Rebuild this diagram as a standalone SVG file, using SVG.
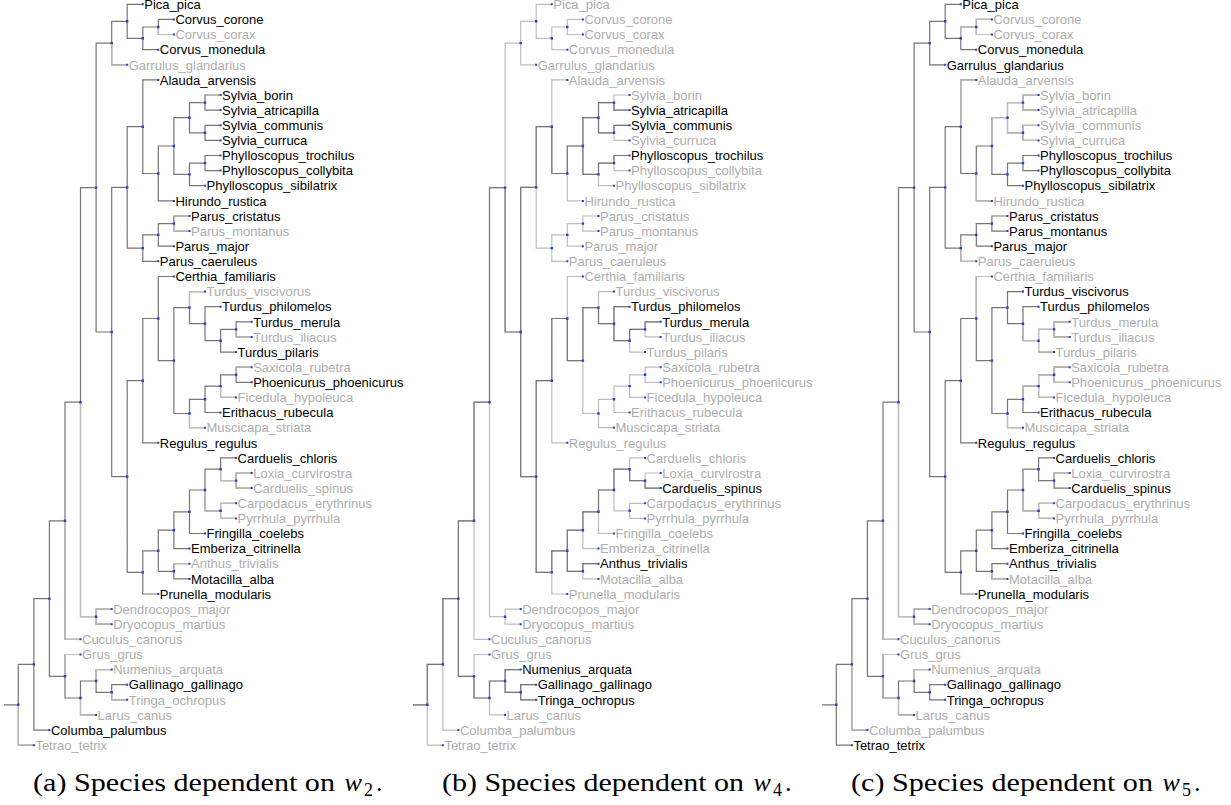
<svg xmlns="http://www.w3.org/2000/svg" xmlns:xlink="http://www.w3.org/1999/xlink" width="1231" height="805" viewBox="0 0 1231 805">
<style>
.ln{fill:none;stroke-width:1.2}
.dk{stroke:#767676}
.lt{stroke:#bdbdbd}
.dot{fill:#1f3fdc}
text.l{font-family:"Liberation Sans",Arial,sans-serif;font-size:13px}
.k{fill:#000}
.g{fill:#adadad}
.cap{font-family:"Liberation Serif","Times New Roman",serif;font-size:26px;fill:#000}
.capi{font-family:"Liberation Serif","Times New Roman",serif;font-size:26px;font-style:italic;fill:#000}
.sub{font-family:"Liberation Serif","Times New Roman",serif;font-size:18px;fill:#000}
</style>
<defs>
<path id="skel" d="M4 704.8H18.3M18.3 704.8V664.4H33.9M18.3 704.8V745.2H33.9M33.9 664.4V598.6H49.4M33.9 664.4V730.1H49.4M49.4 598.6V520.8H65M49.4 598.6V676.3H65M65 520.8V402.2H80.5M65 520.8V639.3H80.5M80.5 402.2V187.6H96.1M80.5 402.2V616.7H96.1M96.1 187.6V43.1H111.7M96.1 187.6V332H111.7M111.7 43.1V21.3H127.2M111.7 43.1V64.8H127.2M127.2 21.3V4.3H142.8M127.2 21.3V38.3H142.8M142.8 38.3V27H158.3M142.8 38.3V49.7H158.3M158.3 27V19.4H173.9M158.3 27V34.5H173.9M111.7 332V187.4H127.2M111.7 332V476.6H127.2M127.2 187.4V126.7H142.8M127.2 187.4V248.1H142.8M142.8 126.7V79.9H158.3M142.8 126.7V173.5H158.3M158.3 173.5V146H173.9M158.3 173.5V200.9H173.9M173.9 146V117.7H189.5M173.9 146V174.4H189.5M189.5 117.7V102.6H205M189.5 117.7V132.8H205M205 102.6V95H220.6M205 102.6V110.1H220.6M205 132.8V125.3H220.6M205 132.8V140.4H220.6M189.5 174.4V163.1H205M189.5 174.4V185.7H205M205 163.1V155.5H220.6M205 163.1V170.6H220.6M142.8 248.1V234.9H158.3M142.8 248.1V261.3H158.3M158.3 234.9V223.6H173.9M158.3 234.9V246.2H173.9M173.9 223.6V216H189.5M173.9 223.6V231.1H189.5M127.2 476.6V380.7H142.8M127.2 476.6V572.4H142.8M142.8 380.7V318.5H158.3M142.8 380.7V442.8H158.3M158.3 318.5V276.5H173.9M158.3 318.5V360.6H173.9M173.9 360.6V307.6H189.5M173.9 360.6V413.5H189.5M189.5 307.6V291.6H205M189.5 307.6V323.7H205M205 323.7V306.7H220.6M205 323.7V340.7H220.6M220.6 340.7V329.4H236.1M220.6 340.7V352.1H236.1M236.1 329.4V321.8H251.7M236.1 329.4V336.9H251.7M189.5 413.5V399.3H205M189.5 413.5V427.7H205M205 399.3V386.1H220.6M205 399.3V412.5H220.6M220.6 386.1V374.8H236.1M220.6 386.1V397.4H236.1M236.1 374.8V367.2H251.7M236.1 374.8V382.3H251.7M142.8 572.4V550.8H158.3M142.8 572.4V594H158.3M158.3 550.8V530.2H173.9M158.3 550.8V571.3H173.9M173.9 530.2V511.8H189.5M173.9 530.2V548.6H189.5M189.5 511.8V490H205M189.5 511.8V533.5H205M205 490V469.2H220.6M205 490V510.8H220.6M220.6 469.2V457.9H236.1M220.6 469.2V480.6H236.1M236.1 480.6V473H251.7M236.1 480.6V488.1H251.7M220.6 510.8V503.3H236.1M220.6 510.8V518.4H236.1M173.9 571.3V563.7H189.5M173.9 571.3V578.9H189.5M96.1 616.7V609.1H111.7M96.1 616.7V624.2H111.7M65 676.3V654.5H80.5M65 676.3V698H80.5M80.5 698V681H96.1M80.5 698V714.9H96.1M96.1 681V669.6H111.7M96.1 681V692.3H111.7M111.7 692.3V684.7H127.2M111.7 692.3V699.8H127.2"/>
<path id="idots" d="M17.1 703.6h2.4v2.4h-2.4zM32.7 663.2h2.4v2.4h-2.4zM48.2 597.4h2.4v2.4h-2.4zM63.8 519.6h2.4v2.4h-2.4zM63.8 675.1h2.4v2.4h-2.4zM79.3 401h2.4v2.4h-2.4zM79.3 696.8h2.4v2.4h-2.4zM94.9 186.4h2.4v2.4h-2.4zM94.9 615.5h2.4v2.4h-2.4zM94.9 679.8h2.4v2.4h-2.4zM110.5 41.9h2.4v2.4h-2.4zM110.5 330.8h2.4v2.4h-2.4zM110.5 691.1h2.4v2.4h-2.4zM126 20.1h2.4v2.4h-2.4zM126 186.2h2.4v2.4h-2.4zM126 475.4h2.4v2.4h-2.4zM141.6 37.1h2.4v2.4h-2.4zM141.6 125.5h2.4v2.4h-2.4zM141.6 246.9h2.4v2.4h-2.4zM141.6 379.5h2.4v2.4h-2.4zM141.6 571.2h2.4v2.4h-2.4zM157.1 25.8h2.4v2.4h-2.4zM157.1 172.3h2.4v2.4h-2.4zM157.1 233.7h2.4v2.4h-2.4zM157.1 317.3h2.4v2.4h-2.4zM157.1 549.6h2.4v2.4h-2.4zM172.7 144.8h2.4v2.4h-2.4zM172.7 222.4h2.4v2.4h-2.4zM172.7 359.4h2.4v2.4h-2.4zM172.7 529h2.4v2.4h-2.4zM172.7 570.1h2.4v2.4h-2.4zM188.3 116.5h2.4v2.4h-2.4zM188.3 173.2h2.4v2.4h-2.4zM188.3 306.4h2.4v2.4h-2.4zM188.3 412.3h2.4v2.4h-2.4zM188.3 510.6h2.4v2.4h-2.4zM203.8 101.4h2.4v2.4h-2.4zM203.8 131.6h2.4v2.4h-2.4zM203.8 161.9h2.4v2.4h-2.4zM203.8 322.5h2.4v2.4h-2.4zM203.8 398.1h2.4v2.4h-2.4zM203.8 488.8h2.4v2.4h-2.4zM219.4 339.5h2.4v2.4h-2.4zM219.4 384.9h2.4v2.4h-2.4zM219.4 468h2.4v2.4h-2.4zM219.4 509.6h2.4v2.4h-2.4zM234.9 328.2h2.4v2.4h-2.4zM234.9 373.6h2.4v2.4h-2.4zM234.9 479.4h2.4v2.4h-2.4z"/>
<path id="ldots" d="M141.8 3.3h2v2h-2zM172.9 18.4h2v2h-2zM172.9 33.5h2v2h-2zM157.3 48.7h2v2h-2zM126.2 63.8h2v2h-2zM157.3 78.9h2v2h-2zM219.6 94h2v2h-2zM219.6 109.1h2v2h-2zM219.6 124.3h2v2h-2zM219.6 139.4h2v2h-2zM219.6 154.5h2v2h-2zM219.6 169.6h2v2h-2zM204 184.7h2v2h-2zM172.9 199.9h2v2h-2zM188.5 215h2v2h-2zM188.5 230.1h2v2h-2zM172.9 245.2h2v2h-2zM157.3 260.3h2v2h-2zM172.9 275.5h2v2h-2zM204 290.6h2v2h-2zM219.6 305.7h2v2h-2zM250.7 320.8h2v2h-2zM250.7 335.9h2v2h-2zM235.1 351.1h2v2h-2zM250.7 366.2h2v2h-2zM250.7 381.3h2v2h-2zM235.1 396.4h2v2h-2zM219.6 411.5h2v2h-2zM204 426.7h2v2h-2zM157.3 441.8h2v2h-2zM235.1 456.9h2v2h-2zM250.7 472h2v2h-2zM250.7 487.1h2v2h-2zM235.1 502.3h2v2h-2zM235.1 517.4h2v2h-2zM204 532.5h2v2h-2zM188.5 547.6h2v2h-2zM188.5 562.7h2v2h-2zM188.5 577.9h2v2h-2zM157.3 593h2v2h-2zM110.7 608.1h2v2h-2zM110.7 623.2h2v2h-2zM79.5 638.3h2v2h-2zM79.5 653.5h2v2h-2zM110.7 668.6h2v2h-2zM126.2 683.7h2v2h-2zM126.2 698.8h2v2h-2zM95.1 713.9h2v2h-2zM48.4 729.1h2v2h-2zM32.9 744.2h2v2h-2z"/>
</defs>

<g id="panel-a">
<g id="a-connectors">
<use href="#skel" class="ln dk"/>
<path class="ln lt" d="M158.3 27V34.5H173.9M111.7 43.1V64.8H127.2M173.9 223.6V231.1H189.5M189.5 307.6V291.6H205M236.1 329.4V336.9H251.7M236.1 374.8V367.2H251.7M220.6 386.1V397.4H236.1M189.5 413.5V427.7H205M236.1 480.6V473H251.7M236.1 480.6V488.1H251.7M220.6 469.2V480.6H236.1M220.6 510.8V503.3H236.1M220.6 510.8V518.4H236.1M205 490V510.8H220.6M173.9 571.3V563.7H189.5M96.1 616.7V609.1H111.7M96.1 616.7V624.2H111.7M80.5 402.2V616.7H96.1M65 520.8V639.3H80.5M65 676.3V654.5H80.5M96.1 681V669.6H111.7M111.7 692.3V699.8H127.2M80.5 698V714.9H96.1M18.3 704.8V745.2H33.9"/>
<use href="#idots" class="dot"/>
<use href="#ldots" class="dot"/>
</g>
<g id="a-Pica_pica"><text class="l k" x="144.3" y="9">Pica_pica</text></g>
<g id="a-Corvus_corone"><text class="l k" x="175.4" y="24.1">Corvus_corone</text></g>
<g id="a-Corvus_corax"><text class="l g" x="175.4" y="39.2">Corvus_corax</text></g>
<g id="a-Corvus_monedula"><text class="l k" x="159.8" y="54.4">Corvus_monedula</text></g>
<g id="a-Garrulus_glandarius"><text class="l g" x="128.7" y="69.5">Garrulus_glandarius</text></g>
<g id="a-Alauda_arvensis"><text class="l k" x="159.8" y="84.6">Alauda_arvensis</text></g>
<g id="a-Sylvia_borin"><text class="l k" x="222.1" y="99.7">Sylvia_borin</text></g>
<g id="a-Sylvia_atricapilla"><text class="l k" x="222.1" y="114.8">Sylvia_atricapilla</text></g>
<g id="a-Sylvia_communis"><text class="l k" x="222.1" y="130">Sylvia_communis</text></g>
<g id="a-Sylvia_curruca"><text class="l k" x="222.1" y="145.1">Sylvia_curruca</text></g>
<g id="a-Phylloscopus_trochilus"><text class="l k" x="222.1" y="160.2">Phylloscopus_trochilus</text></g>
<g id="a-Phylloscopus_collybita"><text class="l k" x="222.1" y="175.3">Phylloscopus_collybita</text></g>
<g id="a-Phylloscopus_sibilatrix"><text class="l k" x="206.5" y="190.4">Phylloscopus_sibilatrix</text></g>
<g id="a-Hirundo_rustica"><text class="l k" x="175.4" y="205.6">Hirundo_rustica</text></g>
<g id="a-Parus_cristatus"><text class="l k" x="191" y="220.7">Parus_cristatus</text></g>
<g id="a-Parus_montanus"><text class="l g" x="191" y="235.8">Parus_montanus</text></g>
<g id="a-Parus_major"><text class="l k" x="175.4" y="250.9">Parus_major</text></g>
<g id="a-Parus_caeruleus"><text class="l k" x="159.8" y="266">Parus_caeruleus</text></g>
<g id="a-Certhia_familiaris"><text class="l k" x="175.4" y="281.2">Certhia_familiaris</text></g>
<g id="a-Turdus_viscivorus"><text class="l g" x="206.5" y="296.3">Turdus_viscivorus</text></g>
<g id="a-Turdus_philomelos"><text class="l k" x="222.1" y="311.4">Turdus_philomelos</text></g>
<g id="a-Turdus_merula"><text class="l k" x="253.2" y="326.5">Turdus_merula</text></g>
<g id="a-Turdus_iliacus"><text class="l g" x="253.2" y="341.6">Turdus_iliacus</text></g>
<g id="a-Turdus_pilaris"><text class="l k" x="237.6" y="356.8">Turdus_pilaris</text></g>
<g id="a-Saxicola_rubetra"><text class="l g" x="253.2" y="371.9">Saxicola_rubetra</text></g>
<g id="a-Phoenicurus_phoenicurus"><text class="l k" x="253.2" y="387">Phoenicurus_phoenicurus</text></g>
<g id="a-Ficedula_hypoleuca"><text class="l g" x="237.6" y="402.1">Ficedula_hypoleuca</text></g>
<g id="a-Erithacus_rubecula"><text class="l k" x="222.1" y="417.2">Erithacus_rubecula</text></g>
<g id="a-Muscicapa_striata"><text class="l g" x="206.5" y="432.4">Muscicapa_striata</text></g>
<g id="a-Regulus_regulus"><text class="l k" x="159.8" y="447.5">Regulus_regulus</text></g>
<g id="a-Carduelis_chloris"><text class="l k" x="237.6" y="462.6">Carduelis_chloris</text></g>
<g id="a-Loxia_curvirostra"><text class="l g" x="253.2" y="477.7">Loxia_curvirostra</text></g>
<g id="a-Carduelis_spinus"><text class="l g" x="253.2" y="492.8">Carduelis_spinus</text></g>
<g id="a-Carpodacus_erythrinus"><text class="l g" x="237.6" y="508">Carpodacus_erythrinus</text></g>
<g id="a-Pyrrhula_pyrrhula"><text class="l g" x="237.6" y="523.1">Pyrrhula_pyrrhula</text></g>
<g id="a-Fringilla_coelebs"><text class="l k" x="206.5" y="538.2">Fringilla_coelebs</text></g>
<g id="a-Emberiza_citrinella"><text class="l k" x="191" y="553.3">Emberiza_citrinella</text></g>
<g id="a-Anthus_trivialis"><text class="l g" x="191" y="568.4">Anthus_trivialis</text></g>
<g id="a-Motacilla_alba"><text class="l k" x="191" y="583.6">Motacilla_alba</text></g>
<g id="a-Prunella_modularis"><text class="l k" x="159.8" y="598.7">Prunella_modularis</text></g>
<g id="a-Dendrocopos_major"><text class="l g" x="113.2" y="613.8">Dendrocopos_major</text></g>
<g id="a-Dryocopus_martius"><text class="l g" x="113.2" y="628.9">Dryocopus_martius</text></g>
<g id="a-Cuculus_canorus"><text class="l g" x="82" y="644">Cuculus_canorus</text></g>
<g id="a-Grus_grus"><text class="l g" x="82" y="659.2">Grus_grus</text></g>
<g id="a-Numenius_arquata"><text class="l g" x="113.2" y="674.3">Numenius_arquata</text></g>
<g id="a-Gallinago_gallinago"><text class="l k" x="128.7" y="689.4">Gallinago_gallinago</text></g>
<g id="a-Tringa_ochropus"><text class="l g" x="128.7" y="704.5">Tringa_ochropus</text></g>
<g id="a-Larus_canus"><text class="l g" x="97.6" y="719.6">Larus_canus</text></g>
<g id="a-Columba_palumbus"><text class="l k" x="50.9" y="734.8">Columba_palumbus</text></g>
<g id="a-Tetrao_tetrix"><text class="l g" x="35.4" y="749.9">Tetrao_tetrix</text></g>
</g>

<g id="panel-b" transform="translate(409 0)">
<g id="b-connectors">
<use href="#skel" class="ln lt"/>
<path class="ln dk" d="M4 704.8H18.3M18.3 704.8V664.4H33.9M33.9 664.4V598.6H49.4M49.4 598.6V520.8H65M49.4 598.6V676.3H65M65 520.8V402.2H80.5M80.5 402.2V187.6H96.1M96.1 187.6V332H111.7M111.7 332V187.4H127.2M111.7 332V476.6H127.2M127.2 187.4V126.7H142.8M142.8 126.7V173.5H158.3M158.3 173.5V146H173.9M173.9 146V117.7H189.5M173.9 146V174.4H189.5M189.5 117.7V102.6H205M189.5 117.7V132.8H205M205 102.6V110.1H220.6M205 132.8V125.3H220.6M189.5 174.4V163.1H205M205 163.1V155.5H220.6M127.2 476.6V380.7H142.8M127.2 476.6V572.4H142.8M142.8 380.7V318.5H158.3M158.3 318.5V360.6H173.9M173.9 360.6V307.6H189.5M189.5 307.6V323.7H205M205 323.7V306.7H220.6M205 323.7V340.7H220.6M220.6 340.7V329.4H236.1M236.1 329.4V321.8H251.7M142.8 572.4V550.8H158.3M158.3 550.8V530.2H173.9M158.3 550.8V571.3H173.9M173.9 530.2V511.8H189.5M189.5 511.8V490H205M205 490V469.2H220.6M220.6 469.2V480.6H236.1M236.1 480.6V488.1H251.7M173.9 571.3V563.7H189.5M65 676.3V698H80.5M80.5 698V681H96.1M96.1 681V669.6H111.7M96.1 681V692.3H111.7M111.7 692.3V684.7H127.2M111.7 692.3V699.8H127.2"/>
<use href="#idots" class="dot"/>
<use href="#ldots" class="dot"/>
</g>
<g id="b-Pica_pica"><text class="l g" x="144.3" y="9">Pica_pica</text></g>
<g id="b-Corvus_corone"><text class="l g" x="175.4" y="24.1">Corvus_corone</text></g>
<g id="b-Corvus_corax"><text class="l g" x="175.4" y="39.2">Corvus_corax</text></g>
<g id="b-Corvus_monedula"><text class="l g" x="159.8" y="54.4">Corvus_monedula</text></g>
<g id="b-Garrulus_glandarius"><text class="l g" x="128.7" y="69.5">Garrulus_glandarius</text></g>
<g id="b-Alauda_arvensis"><text class="l g" x="159.8" y="84.6">Alauda_arvensis</text></g>
<g id="b-Sylvia_borin"><text class="l g" x="222.1" y="99.7">Sylvia_borin</text></g>
<g id="b-Sylvia_atricapilla"><text class="l k" x="222.1" y="114.8">Sylvia_atricapilla</text></g>
<g id="b-Sylvia_communis"><text class="l k" x="222.1" y="130">Sylvia_communis</text></g>
<g id="b-Sylvia_curruca"><text class="l g" x="222.1" y="145.1">Sylvia_curruca</text></g>
<g id="b-Phylloscopus_trochilus"><text class="l k" x="222.1" y="160.2">Phylloscopus_trochilus</text></g>
<g id="b-Phylloscopus_collybita"><text class="l g" x="222.1" y="175.3">Phylloscopus_collybita</text></g>
<g id="b-Phylloscopus_sibilatrix"><text class="l g" x="206.5" y="190.4">Phylloscopus_sibilatrix</text></g>
<g id="b-Hirundo_rustica"><text class="l g" x="175.4" y="205.6">Hirundo_rustica</text></g>
<g id="b-Parus_cristatus"><text class="l g" x="191" y="220.7">Parus_cristatus</text></g>
<g id="b-Parus_montanus"><text class="l g" x="191" y="235.8">Parus_montanus</text></g>
<g id="b-Parus_major"><text class="l g" x="175.4" y="250.9">Parus_major</text></g>
<g id="b-Parus_caeruleus"><text class="l g" x="159.8" y="266">Parus_caeruleus</text></g>
<g id="b-Certhia_familiaris"><text class="l g" x="175.4" y="281.2">Certhia_familiaris</text></g>
<g id="b-Turdus_viscivorus"><text class="l g" x="206.5" y="296.3">Turdus_viscivorus</text></g>
<g id="b-Turdus_philomelos"><text class="l k" x="222.1" y="311.4">Turdus_philomelos</text></g>
<g id="b-Turdus_merula"><text class="l k" x="253.2" y="326.5">Turdus_merula</text></g>
<g id="b-Turdus_iliacus"><text class="l g" x="253.2" y="341.6">Turdus_iliacus</text></g>
<g id="b-Turdus_pilaris"><text class="l g" x="237.6" y="356.8">Turdus_pilaris</text></g>
<g id="b-Saxicola_rubetra"><text class="l g" x="253.2" y="371.9">Saxicola_rubetra</text></g>
<g id="b-Phoenicurus_phoenicurus"><text class="l g" x="253.2" y="387">Phoenicurus_phoenicurus</text></g>
<g id="b-Ficedula_hypoleuca"><text class="l g" x="237.6" y="402.1">Ficedula_hypoleuca</text></g>
<g id="b-Erithacus_rubecula"><text class="l g" x="222.1" y="417.2">Erithacus_rubecula</text></g>
<g id="b-Muscicapa_striata"><text class="l g" x="206.5" y="432.4">Muscicapa_striata</text></g>
<g id="b-Regulus_regulus"><text class="l g" x="159.8" y="447.5">Regulus_regulus</text></g>
<g id="b-Carduelis_chloris"><text class="l g" x="237.6" y="462.6">Carduelis_chloris</text></g>
<g id="b-Loxia_curvirostra"><text class="l g" x="253.2" y="477.7">Loxia_curvirostra</text></g>
<g id="b-Carduelis_spinus"><text class="l k" x="253.2" y="492.8">Carduelis_spinus</text></g>
<g id="b-Carpodacus_erythrinus"><text class="l g" x="237.6" y="508">Carpodacus_erythrinus</text></g>
<g id="b-Pyrrhula_pyrrhula"><text class="l g" x="237.6" y="523.1">Pyrrhula_pyrrhula</text></g>
<g id="b-Fringilla_coelebs"><text class="l g" x="206.5" y="538.2">Fringilla_coelebs</text></g>
<g id="b-Emberiza_citrinella"><text class="l g" x="191" y="553.3">Emberiza_citrinella</text></g>
<g id="b-Anthus_trivialis"><text class="l k" x="191" y="568.4">Anthus_trivialis</text></g>
<g id="b-Motacilla_alba"><text class="l g" x="191" y="583.6">Motacilla_alba</text></g>
<g id="b-Prunella_modularis"><text class="l g" x="159.8" y="598.7">Prunella_modularis</text></g>
<g id="b-Dendrocopos_major"><text class="l g" x="113.2" y="613.8">Dendrocopos_major</text></g>
<g id="b-Dryocopus_martius"><text class="l g" x="113.2" y="628.9">Dryocopus_martius</text></g>
<g id="b-Cuculus_canorus"><text class="l g" x="82" y="644">Cuculus_canorus</text></g>
<g id="b-Grus_grus"><text class="l g" x="82" y="659.2">Grus_grus</text></g>
<g id="b-Numenius_arquata"><text class="l k" x="113.2" y="674.3">Numenius_arquata</text></g>
<g id="b-Gallinago_gallinago"><text class="l k" x="128.7" y="689.4">Gallinago_gallinago</text></g>
<g id="b-Tringa_ochropus"><text class="l k" x="128.7" y="704.5">Tringa_ochropus</text></g>
<g id="b-Larus_canus"><text class="l g" x="97.6" y="719.6">Larus_canus</text></g>
<g id="b-Columba_palumbus"><text class="l g" x="50.9" y="734.8">Columba_palumbus</text></g>
<g id="b-Tetrao_tetrix"><text class="l g" x="35.4" y="749.9">Tetrao_tetrix</text></g>
</g>

<g id="panel-c" transform="translate(818 0)">
<g id="c-connectors">
<use href="#skel" class="ln dk"/>
<path class="ln lt" d="M158.3 27V19.4H173.9M158.3 27V34.5H173.9M142.8 38.3V27H158.3M142.8 126.7V79.9H158.3M205 102.6V95H220.6M205 102.6V110.1H220.6M205 132.8V125.3H220.6M205 132.8V140.4H220.6M189.5 117.7V102.6H205M189.5 117.7V132.8H205M173.9 146V117.7H189.5M158.3 173.5V200.9H173.9M142.8 248.1V261.3H158.3M158.3 318.5V276.5H173.9M236.1 329.4V321.8H251.7M236.1 329.4V336.9H251.7M220.6 340.7V329.4H236.1M220.6 340.7V352.1H236.1M205 323.7V340.7H220.6M236.1 374.8V367.2H251.7M236.1 374.8V382.3H251.7M220.6 386.1V374.8H236.1M220.6 386.1V397.4H236.1M205 399.3V386.1H220.6M189.5 413.5V427.7H205M236.1 480.6V473H251.7M220.6 510.8V503.3H236.1M220.6 510.8V518.4H236.1M205 490V510.8H220.6M173.9 571.3V578.9H189.5M96.1 616.7V609.1H111.7M96.1 616.7V624.2H111.7M80.5 402.2V616.7H96.1M65 520.8V639.3H80.5M65 676.3V654.5H80.5M96.1 681V669.6H111.7M80.5 698V714.9H96.1M33.9 664.4V730.1H49.4"/>
<use href="#idots" class="dot"/>
<use href="#ldots" class="dot"/>
</g>
<g id="c-Pica_pica"><text class="l k" x="144.3" y="9">Pica_pica</text></g>
<g id="c-Corvus_corone"><text class="l g" x="175.4" y="24.1">Corvus_corone</text></g>
<g id="c-Corvus_corax"><text class="l g" x="175.4" y="39.2">Corvus_corax</text></g>
<g id="c-Corvus_monedula"><text class="l k" x="159.8" y="54.4">Corvus_monedula</text></g>
<g id="c-Garrulus_glandarius"><text class="l k" x="128.7" y="69.5">Garrulus_glandarius</text></g>
<g id="c-Alauda_arvensis"><text class="l g" x="159.8" y="84.6">Alauda_arvensis</text></g>
<g id="c-Sylvia_borin"><text class="l g" x="222.1" y="99.7">Sylvia_borin</text></g>
<g id="c-Sylvia_atricapilla"><text class="l g" x="222.1" y="114.8">Sylvia_atricapilla</text></g>
<g id="c-Sylvia_communis"><text class="l g" x="222.1" y="130">Sylvia_communis</text></g>
<g id="c-Sylvia_curruca"><text class="l g" x="222.1" y="145.1">Sylvia_curruca</text></g>
<g id="c-Phylloscopus_trochilus"><text class="l k" x="222.1" y="160.2">Phylloscopus_trochilus</text></g>
<g id="c-Phylloscopus_collybita"><text class="l k" x="222.1" y="175.3">Phylloscopus_collybita</text></g>
<g id="c-Phylloscopus_sibilatrix"><text class="l k" x="206.5" y="190.4">Phylloscopus_sibilatrix</text></g>
<g id="c-Hirundo_rustica"><text class="l g" x="175.4" y="205.6">Hirundo_rustica</text></g>
<g id="c-Parus_cristatus"><text class="l k" x="191" y="220.7">Parus_cristatus</text></g>
<g id="c-Parus_montanus"><text class="l k" x="191" y="235.8">Parus_montanus</text></g>
<g id="c-Parus_major"><text class="l k" x="175.4" y="250.9">Parus_major</text></g>
<g id="c-Parus_caeruleus"><text class="l g" x="159.8" y="266">Parus_caeruleus</text></g>
<g id="c-Certhia_familiaris"><text class="l g" x="175.4" y="281.2">Certhia_familiaris</text></g>
<g id="c-Turdus_viscivorus"><text class="l k" x="206.5" y="296.3">Turdus_viscivorus</text></g>
<g id="c-Turdus_philomelos"><text class="l k" x="222.1" y="311.4">Turdus_philomelos</text></g>
<g id="c-Turdus_merula"><text class="l g" x="253.2" y="326.5">Turdus_merula</text></g>
<g id="c-Turdus_iliacus"><text class="l g" x="253.2" y="341.6">Turdus_iliacus</text></g>
<g id="c-Turdus_pilaris"><text class="l g" x="237.6" y="356.8">Turdus_pilaris</text></g>
<g id="c-Saxicola_rubetra"><text class="l g" x="253.2" y="371.9">Saxicola_rubetra</text></g>
<g id="c-Phoenicurus_phoenicurus"><text class="l g" x="253.2" y="387">Phoenicurus_phoenicurus</text></g>
<g id="c-Ficedula_hypoleuca"><text class="l g" x="237.6" y="402.1">Ficedula_hypoleuca</text></g>
<g id="c-Erithacus_rubecula"><text class="l k" x="222.1" y="417.2">Erithacus_rubecula</text></g>
<g id="c-Muscicapa_striata"><text class="l g" x="206.5" y="432.4">Muscicapa_striata</text></g>
<g id="c-Regulus_regulus"><text class="l k" x="159.8" y="447.5">Regulus_regulus</text></g>
<g id="c-Carduelis_chloris"><text class="l k" x="237.6" y="462.6">Carduelis_chloris</text></g>
<g id="c-Loxia_curvirostra"><text class="l g" x="253.2" y="477.7">Loxia_curvirostra</text></g>
<g id="c-Carduelis_spinus"><text class="l k" x="253.2" y="492.8">Carduelis_spinus</text></g>
<g id="c-Carpodacus_erythrinus"><text class="l g" x="237.6" y="508">Carpodacus_erythrinus</text></g>
<g id="c-Pyrrhula_pyrrhula"><text class="l g" x="237.6" y="523.1">Pyrrhula_pyrrhula</text></g>
<g id="c-Fringilla_coelebs"><text class="l k" x="206.5" y="538.2">Fringilla_coelebs</text></g>
<g id="c-Emberiza_citrinella"><text class="l k" x="191" y="553.3">Emberiza_citrinella</text></g>
<g id="c-Anthus_trivialis"><text class="l k" x="191" y="568.4">Anthus_trivialis</text></g>
<g id="c-Motacilla_alba"><text class="l g" x="191" y="583.6">Motacilla_alba</text></g>
<g id="c-Prunella_modularis"><text class="l k" x="159.8" y="598.7">Prunella_modularis</text></g>
<g id="c-Dendrocopos_major"><text class="l g" x="113.2" y="613.8">Dendrocopos_major</text></g>
<g id="c-Dryocopus_martius"><text class="l g" x="113.2" y="628.9">Dryocopus_martius</text></g>
<g id="c-Cuculus_canorus"><text class="l g" x="82" y="644">Cuculus_canorus</text></g>
<g id="c-Grus_grus"><text class="l g" x="82" y="659.2">Grus_grus</text></g>
<g id="c-Numenius_arquata"><text class="l g" x="113.2" y="674.3">Numenius_arquata</text></g>
<g id="c-Gallinago_gallinago"><text class="l k" x="128.7" y="689.4">Gallinago_gallinago</text></g>
<g id="c-Tringa_ochropus"><text class="l k" x="128.7" y="704.5">Tringa_ochropus</text></g>
<g id="c-Larus_canus"><text class="l g" x="97.6" y="719.6">Larus_canus</text></g>
<g id="c-Columba_palumbus"><text class="l g" x="50.9" y="734.8">Columba_palumbus</text></g>
<g id="c-Tetrao_tetrix"><text class="l k" x="35.4" y="749.9">Tetrao_tetrix</text></g>
</g>

<g id="captions">
<text class="cap" x="33" y="791" textLength="302" lengthAdjust="spacingAndGlyphs">(a) Species dependent on</text>
<text class="capi" x="344.5" y="791">w</text><text class="sub" x="364" y="795.5">2</text><text class="cap" x="376" y="791">.</text>
<text class="cap" x="442" y="791" textLength="302" lengthAdjust="spacingAndGlyphs">(b) Species dependent on</text>
<text class="capi" x="753.5" y="791">w</text><text class="sub" x="773" y="795.5">4</text><text class="cap" x="785" y="791">.</text>
<text class="cap" x="851" y="791" textLength="302" lengthAdjust="spacingAndGlyphs">(c) Species dependent on</text>
<text class="capi" x="1162.5" y="791">w</text><text class="sub" x="1182" y="795.5">5</text><text class="cap" x="1194" y="791">.</text>
</g>
</svg>
